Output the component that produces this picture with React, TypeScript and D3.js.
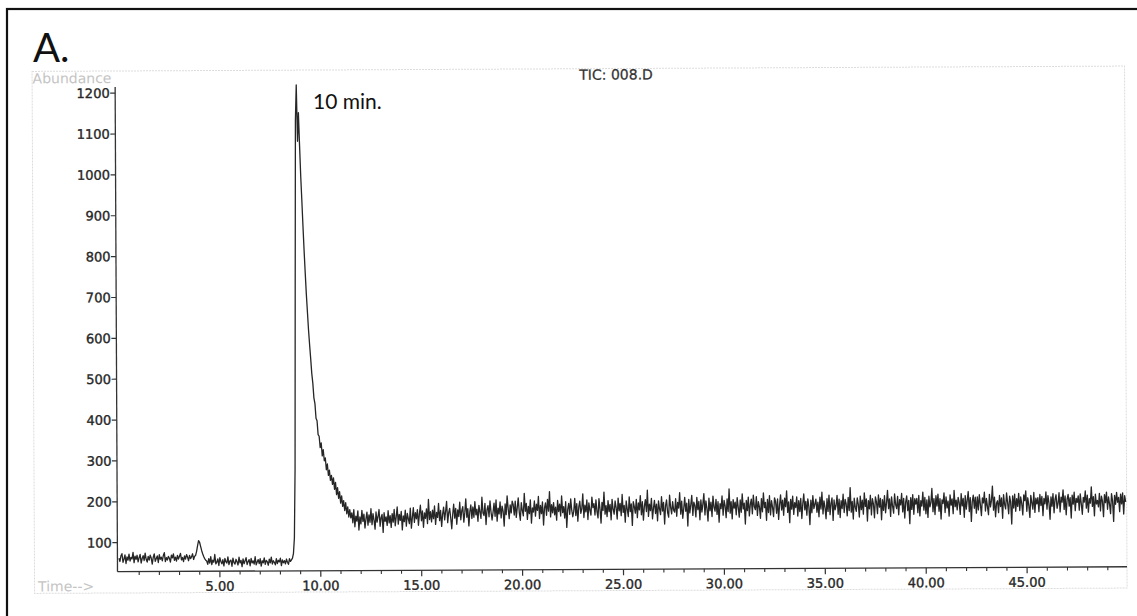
import React from "react";
import * as d3 from "d3";

// ---- data (abundance sampled every STEP minutes starting at 0.00 min) ----
const STEP = 0.05;

// 0.00 – 3.75 min
const earlyBaseline = [
  62, 54, 68, 73, 52, 60, 70, 49, 65, 57,
  72, 55, 64, 60, 76, 51, 67, 59, 69, 53,
  63, 71, 50, 61, 68, 56, 74, 59, 52, 66,
  57, 69, 62, 47, 64, 72, 54, 61, 67, 51,
  70, 59, 64, 55, 68, 75, 53, 63, 57, 66,
  61, 52, 69, 62, 72, 56, 64, 54, 68, 59,
  66, 73, 57, 63, 53, 67, 59, 70, 64, 55,
  68, 60, 65, 72, 58, 66,
];

// 3.80 – 4.30 min
const smallPeak = [68, 78, 92, 104, 100, 90, 80, 72, 65, 60, 56];

// 4.35 – 8.60 min
const midBaseline = [
  54, 46, 60, 49, 65, 45, 56, 51, 70, 47,
  51, 59, 43, 62, 53, 47, 57, 42, 60, 52,
  49, 64, 45, 54, 56, 41, 61, 50, 46, 58,
  52, 44, 63, 49, 55, 40, 59, 47, 54, 62,
  45, 52, 57, 42, 60, 49, 54, 46, 64, 44,
  51, 57, 47, 59, 41, 54, 49, 61, 45, 55,
  52, 43, 58, 49, 63, 46, 54, 50, 44, 59,
  47, 55, 51, 60, 42, 56, 49, 54, 46, 58,
  50, 45, 59, 52, 56, 60,
];

// 8.65 – 11.50 min
const mainPeak = [
  72, 110, 280, 720, 1130, 1218, 1080, 1150,
  1070, 995, 935, 872, 812, 758, 706, 662, 618, 582,
  548, 512, 488, 452, 438, 402, 396, 362, 358, 330,
  342, 310, 325, 298, 305, 276, 290, 262, 275, 250,
  262, 240, 256, 228, 245, 215, 232, 206, 222, 194,
  212, 186, 200, 176, 195, 168, 185, 160, 178, 158,
];

// 11.55 – 49.90 min
const tail = [
  170, 146, 178, 136, 162, 150, 175, 128, 160, 143, 176, 149, 167, 133, 155, 172, 140, 165, 147, 180,
  141, 168, 152, 130, 172, 147, 161, 178, 137, 158, 166, 122, 170, 149, 160, 139, 175, 145, 163, 134,
  168, 147, 178, 138, 160, 184, 142, 166, 151, 173, 128, 162, 148, 176, 137, 168, 155, 143, 181, 132,
  158, 182, 146, 170, 155, 177, 139, 167, 188, 150, 174, 134, 169, 156, 179, 143, 202, 153, 172, 147,
  176, 155, 186, 141, 170, 158, 192, 150, 175, 136, 166, 183, 152, 173, 197, 145, 169, 180, 157, 130,
  165, 190, 156, 180, 141, 176, 160, 195, 152, 174, 184, 146, 170, 203, 158, 179, 137, 172, 188, 155,
  183, 158, 196, 164, 178, 148, 187, 171, 155, 207, 168, 162, 192, 140, 176, 186, 159, 198, 170, 151,
  170, 192, 160, 200, 148, 180, 166, 195, 156, 185, 172, 136, 190, 164, 210, 178, 154, 188, 168, 197,
  188, 163, 197, 157, 181, 205, 169, 150, 193, 174, 161, 216, 172, 191, 152, 184, 166, 200, 143, 180,
  170, 197, 160, 189, 174, 208, 154, 186, 166, 195, 138, 180, 192, 162, 201, 172, 220, 158, 188, 168,
  193, 163, 182, 150, 198, 171, 189, 160, 209, 168, 183, 155, 195, 132, 176, 191, 164, 202, 174, 158,
  172, 203, 161, 190, 147, 182, 196, 166, 178, 214, 156, 186, 170, 199, 151, 192, 174, 162, 206, 180,
  190, 162, 199, 171, 155, 202, 177, 142, 193, 173, 218, 164, 185, 158, 197, 170, 188, 150, 200, 176,
  164, 196, 180, 152, 203, 172, 190, 160, 212, 168, 185, 144, 196, 176, 158, 206, 170, 189, 136, 194,
  182, 166, 200, 155, 191, 174, 209, 162, 194, 149, 183, 199, 170, 222, 158, 188, 172, 202, 152, 178,
  197, 165, 188, 147, 196, 176, 162, 206, 171, 192, 139, 184, 198, 167, 156, 210, 180, 164, 194, 173,
  168, 201, 158, 192, 178, 216, 163, 195, 153, 177, 204, 170, 190, 134, 199, 166, 186, 209, 160, 192,
  184, 156, 204, 174, 194, 149, 198, 168, 188, 213, 161, 195, 176, 146, 202, 171, 192, 157, 207, 180,
  170, 199, 162, 193, 143, 188, 176, 207, 160, 196, 183, 154, 200, 169, 224, 165, 193, 151, 198, 177,
  192, 161, 203, 179, 155, 197, 167, 212, 175, 189, 138, 196, 171, 204, 158, 186, 199, 163, 209, 180,
  173, 205, 159, 193, 180, 152, 200, 168, 214, 178, 191, 147, 198, 166, 207, 160, 195, 179, 156, 202,
  193, 164, 199, 149, 185, 209, 172, 196, 159, 201, 180, 219, 166, 192, 141, 198, 174, 206, 161, 190,
  178, 204, 157, 195, 168, 200, 151, 187, 211, 172, 193, 159, 199, 180, 136, 196, 165, 207, 175, 186,
  198, 166, 191, 155, 203, 174, 215, 162, 194, 178, 150, 199, 168, 208, 160, 188, 201, 146, 196, 172,
  183, 207, 161, 198, 153, 194, 175, 210, 165, 197, 186, 157, 202, 170, 226, 166, 192, 149, 200, 178,
  168, 201, 185, 154, 205, 172, 195, 161, 213, 180, 198, 144, 194, 174, 207, 159, 199, 186, 152, 203,
  191, 162, 208, 178, 199, 147, 196, 170, 206, 164, 189, 219, 174, 198, 155, 203, 180, 163, 210, 184,
  174, 204, 159, 196, 183, 211, 166, 199, 151, 190, 205, 169, 194, 137, 201, 172, 208, 160, 198, 185,
  199, 164, 206, 156, 193, 180, 214, 170, 201, 161, 195, 152, 204, 178, 189, 223, 166, 198, 159, 205,
  180, 209, 167, 198, 148, 195, 186, 212, 164, 202, 175, 192, 155, 207, 182, 197, 161, 218, 178, 194,
  170, 201, 188, 159, 210, 180, 198, 152, 205, 172, 194, 215, 166, 200, 142, 191, 206, 174, 201, 162,
  202, 170, 207, 183, 156, 199, 187, 213, 167, 198, 178, 158, 208, 177, 193, 228, 169, 201, 153, 186,
  192, 163, 205, 178, 199, 149, 207, 183, 172, 211, 187, 160, 203, 189, 135, 204, 174, 208, 166, 197,
  178, 210, 168, 201, 185, 157, 206, 192, 216, 166, 199, 180, 151, 205, 187, 171, 212, 163, 198, 184,
  199, 165, 207, 180, 202, 155, 197, 184, 213, 171, 204, 186, 146, 201, 178, 209, 162, 195, 206, 173,
  185, 211, 164, 200, 188, 218, 170, 203, 157, 195, 207, 178, 199, 149, 205, 183, 212, 167, 197, 187,
  203, 168, 208, 184, 158, 199, 188, 215, 173, 205, 163, 196, 185, 225, 177, 201, 154, 207, 183, 192,
  176, 209, 166, 202, 190, 152, 206, 186, 212, 170, 200, 183, 159, 208, 191, 140, 204, 182, 211, 187,
  199, 164, 207, 183, 210, 158, 203, 188,
];

const abundance = [...earlyBaseline, ...smallPeak, ...midBaseline, ...mainPeak, ...tail];

const yTickValues = [100, 200, 300, 400, 500, 600, 700, 800, 900, 1000, 1100, 1200];
const xMajorTicks = [5, 10, 15, 20, 25, 30, 35, 40, 45];
const xMinorTicks = [
  1, 2, 3, 4, 6, 7, 8, 9, 11, 12, 13, 14, 16, 17, 18, 19, 21, 22, 23, 24,
  26, 27, 28, 29, 31, 32, 33, 34, 36, 37, 38, 39, 41, 42, 43, 44, 46, 47, 48, 49,
];
const X_DOMAIN = [0, 49.95];
const Y_DOMAIN = [29, 1215];

const TITLE = "TIC: 008.D";
const Y_LABEL = "Abundance";
const X_LABEL = "Time-->";
const PANEL = "A.";
const ANNOTATION = "10 min.";

export default function App() {
  const W = 1137;
  const H = 616;
  const axisY = 571.7;
  const axisX = 117.5;
  const x = d3.scaleLinear().domain(X_DOMAIN).range([119, 1127]);
  const y = d3.scaleLinear().domain(Y_DOMAIN).range([axisY, 87]);

  const line = d3
    .line<number>()
    .x((_, i) => x(i * STEP))
    .y((v) => y(v));

  const tickFont = "'DejaVu Sans', sans-serif";
  const labelFill = "#262626";

  return (
    <svg
      width={W}
      height={H}
      style={{ position: "absolute", left: 0, top: 0, background: "#fff" }}
    >
      <rect x={0} y={0} width={W} height={H} fill="#fff" />
      {/* outer frame */}
      <rect x={7} y={9} width={W + 20} height={H + 20} fill="none" stroke="#111" strokeWidth={2.2} />
      <text x={33} y={62} fontFamily="Lato, 'Liberation Sans', sans-serif" fontSize={40} fill="#111">
        {PANEL}
      </text>

      <g transform={`rotate(-0.28 ${axisX} ${axisY})`}>
        {/* light frame of the printout */}
        <rect
          x={34.5}
          y={71}
          width={1127 - 34.5}
          height={593 - 71}
          fill="none"
          stroke="#dcdcdc"
          strokeWidth={1}
          strokeDasharray="2 1"
        />
        <text x={35} y={83} fontFamily={tickFont} fontSize={14} fill="#c4c4c4">
          {Y_LABEL}
        </text>
        <text x={38} y={591} fontFamily={tickFont} fontSize={14} fill="#c4c4c4">
          {X_LABEL}
        </text>
        <text
          x={618.5}
          y={82}
          textAnchor="middle"
          fontFamily={tickFont}
          fontSize={14}
          fill="#333"
          stroke="#333"
          strokeWidth={0.25}
        >
          {TITLE}
        </text>

        {/* y axis */}
        <line x1={axisX} x2={axisX} y1={axisY} y2={y(Y_DOMAIN[1])} stroke="#333" strokeWidth={1.3} />
        {yTickValues.map((v) => (
          <g key={`y${v}`}>
            <line x1={axisX - 5} x2={axisX} y1={y(v)} y2={y(v)} stroke="#333" strokeWidth={1.2} />
            <text
              x={axisX - 5.5}
              y={y(v)}
              dy="0.36em"
              textAnchor="end"
              fontFamily={tickFont}
              fontSize={13}
              fill={labelFill}
              stroke={labelFill}
              strokeWidth={0.35}
            >
              {v}
            </text>
          </g>
        ))}

        {/* x axis */}
        <line x1={axisX} x2={x(X_DOMAIN[1])} y1={axisY} y2={axisY} stroke="#333" strokeWidth={1.3} />
        {xMinorTicks.map((t) => (
          <line key={`m${t}`} x1={x(t)} x2={x(t)} y1={axisY} y2={axisY + 3.5} stroke="#333" strokeWidth={1.1} />
        ))}
        {xMajorTicks.map((t) => (
          <g key={`x${t}`}>
            <line x1={x(t)} x2={x(t)} y1={axisY} y2={axisY + 6} stroke="#333" strokeWidth={1.2} />
            <text
              x={x(t)}
              y={axisY + 19.5}
              textAnchor="middle"
              fontFamily={tickFont}
              fontSize={13}
              fill={labelFill}
              stroke={labelFill}
              strokeWidth={0.35}
            >
              {t.toFixed(2)}
            </text>
          </g>
        ))}

        {/* chromatogram trace */}
        <path d={line(abundance) || ""} fill="none" stroke="#262626" strokeWidth={1.3} strokeLinejoin="round" />
      </g>

      <text x={313} y={109} fontFamily="Lato, 'Open Sans', sans-serif" fontSize={21} fill="#111">
        {ANNOTATION}
      </text>
    </svg>
  );
}
